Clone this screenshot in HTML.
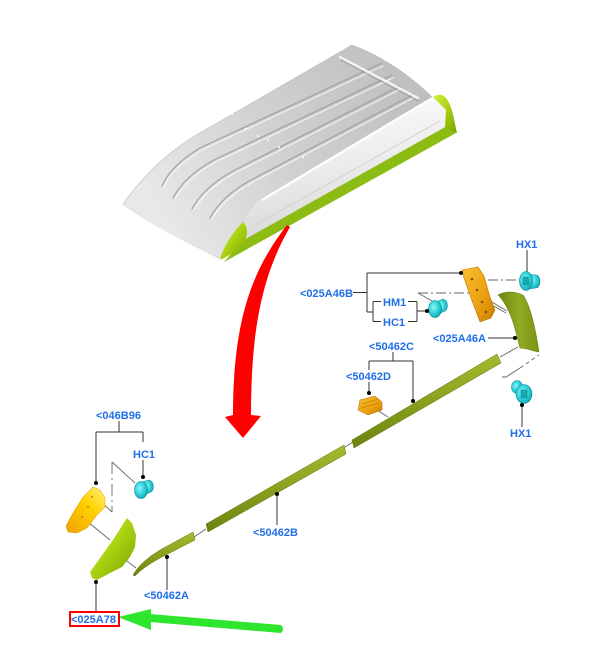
<!DOCTYPE html>
<html><head><meta charset="utf-8"><style>
html,body{margin:0;padding:0;background:#fff;}
svg{display:block;}
text{font-family:"Liberation Sans",Arial,sans-serif;font-weight:bold;font-size:11px;fill:#1f6fe8;}
</style></head><body>
<svg width="613" height="649" viewBox="0 0 613 649" xmlns="http://www.w3.org/2000/svg">
<defs>
<linearGradient id="roofTop" x1="150" y1="200" x2="400" y2="60" gradientUnits="userSpaceOnUse">
<stop offset="0" stop-color="#e8e8e8"/><stop offset="0.5" stop-color="#d0d0d0"/><stop offset="1" stop-color="#bfbfbf"/></linearGradient>
<linearGradient id="side" x1="0" y1="0" x2="0.2" y2="1">
<stop offset="0" stop-color="#ffffff"/><stop offset="0.5" stop-color="#eeeeee"/><stop offset="1" stop-color="#d8d8d8"/></linearGradient>
<linearGradient id="lime" x1="0" y1="0" x2="1" y2="1">
<stop offset="0" stop-color="#d4f040"/><stop offset="0.5" stop-color="#a8d010"/><stop offset="1" stop-color="#78a000"/></linearGradient>
<linearGradient id="olive" x1="0" y1="0" x2="0" y2="1">
<stop offset="0" stop-color="#a4bc30"/><stop offset="0.45" stop-color="#8ca420"/><stop offset="1" stop-color="#6c8410"/></linearGradient>
<linearGradient id="fin" x1="0" y1="0" x2="1" y2="0">
<stop offset="0" stop-color="#6a8610"/><stop offset="0.5" stop-color="#90aa22"/><stop offset="1" stop-color="#7a9416"/></linearGradient>
<radialGradient id="cyan" cx="0.4" cy="0.4" r="0.7">
<stop offset="0" stop-color="#8ff4f4"/><stop offset="0.5" stop-color="#30d4dc"/><stop offset="1" stop-color="#139aa6"/></radialGradient>
<linearGradient id="gold" x1="0" y1="0" x2="1" y2="1">
<stop offset="0" stop-color="#f8c030"/><stop offset="0.6" stop-color="#eaa010"/><stop offset="1" stop-color="#c87a00"/></linearGradient>
<linearGradient id="yel" x1="1" y1="0" x2="0" y2="1">
<stop offset="0" stop-color="#fff080"/><stop offset="0.4" stop-color="#ffd200"/><stop offset="1" stop-color="#f0a000"/></linearGradient>
</defs>

<!-- ROOF -->
<path d="M123,204 C140,180 165,152 205,130 L352,45 C380,55 410,75 432,97 L262,198 C252,205 246,214 243,222 L221,259 C190,243 150,225 123,204 Z" fill="url(#roofTop)" stroke="#bbb" stroke-width="0.6"/>
<path d="M432,97 L442,95 L447,110 L447,126 L242,241 L243,222 C246,214 252,205 262,198 Z" fill="url(#side)"/>
<path d="M242,241 L447,126 L456,133 L224,262 Z" fill="#8cbc14"/>
<path d="M243,222 C249,228 248,238 241,246 C234,252 227,257 220,260 C222,250 230,235 243,222 Z" fill="url(#lime)"/>
<path d="M433,97 C440,92 446,95 450,105 C454,115 455,125 457,133 L452,131 L445,127 L446,110 Z" fill="url(#lime)"/>
<path d="M262,200 L431,99" stroke="#fff" stroke-width="2"/>
<path d="M250,228 L440,121" stroke="#d2d2d2" stroke-width="1"/>
<!-- grooves -->
<g fill="none" stroke-linecap="round">
<path d="M162,186 C168,172 180,160 200,148 L382,63" stroke="#a0a0a0" stroke-width="1.2"/>
<path d="M164,187 C170,174 182,162 202,150 L383,66" stroke="#f6f6f6" stroke-width="1"/>
<path d="M173,198 C181,183 194,171 214,160 L392,75" stroke="#a0a0a0" stroke-width="1.2"/>
<path d="M175,199 C183,185 196,173 216,162 L393,78" stroke="#f6f6f6" stroke-width="1"/>
<path d="M192,209 C200,194 213,182 233,171 L400,86" stroke="#a0a0a0" stroke-width="1.2"/>
<path d="M194,210 C202,196 215,184 235,173 L401,89" stroke="#f6f6f6" stroke-width="1"/>
<path d="M210,218 C218,203 231,191 251,180 L414,94" stroke="#a0a0a0" stroke-width="1.2"/>
<path d="M212,219 C220,205 233,193 253,182 L415,97" stroke="#f6f6f6" stroke-width="1"/>
<path d="M340,57 L418,98" stroke="#f4f4f4" stroke-width="2.2"/>
<path d="M341,60 L418,101" stroke="#999" stroke-width="0.8"/>
<path d="M123,205 C150,225 190,244 221,260" stroke="#f8f8f8" stroke-width="1.4"/>
</g>
<g fill="#fff"><circle cx="232" cy="114" r="1"/><circle cx="246" cy="129" r="1"/><circle cx="258" cy="136" r="1"/><circle cx="268" cy="140" r="1"/><circle cx="279" cy="147" r="1"/><circle cx="303" cy="157" r="1"/></g>

<!-- RED ARROW -->
<path d="M287,225 C252,270 233,320 233,415 L225,417 L243,438 L261,416 L251,415 C251,330 262,275 290,227 Z" fill="#ff0000"/>

<!-- leader lines -->
<g stroke="#333" stroke-width="1" fill="none">
<path d="M527,250 V272"/>
<path d="M353,292.5 H367 M367,273 V312 M367,273 H461 M367,312 H373 M373,301.5 V321.5 M373,301.5 H381 M373,321.5 H381 M408,301.5 H417 M408,321.5 H417 M417,301.5 V321.5 M417,311 H427"/>
<path d="M488,338 H515"/>
<path d="M393,352 V361 M369,361 H413 M369,361 V370 M413,361 V401 M369,382 V393"/>
<path d="M522,405 V427"/>
<path d="M277,494 V525"/>
<path d="M167,557 V590"/>
<path d="M119,421 V432 M96,432 H143 M96,432 V483 M143,432 V442 M143,460 V477"/>
<path d="M96,582 V612"/>
</g>
<!-- thin gray connectors -->
<g stroke="#666" stroke-width="0.9" fill="none">
<path d="M470,280 H520" stroke-dasharray="10,3,2,3"/>
<path d="M418,293 H480" stroke-dasharray="10,3,2,3"/>
<path d="M418,293 L432,301"/>
<path d="M483,300 L506,313 M485,298 L507,311"/>
<path d="M500,357 L518,347"/>
<path d="M502,377 H506 L520,368" /><path d="M520,368 L539,355" stroke-dasharray="4,3"/>
<path d="M377,410 L388,417"/>
<path d="M345,447 L353,442"/>
<path d="M194,537 L206,529"/>
<path d="M123,558 L136,568"/>
<path d="M88,522 L110,540"/>
<path d="M112,462 L135,483"/>
<path d="M112,462 V512" stroke-dasharray="12,4,2,4"/>
<path d="M112,512 L99,500"/>
</g>

<!-- golden bracket 025A46B -->
<path d="M462,270 L478,267 L484,276 L490,297 L495,310 L491,318 L480,322 L471,298 L464,278 Z" fill="url(#gold)" stroke="#c07800" stroke-width="0.6"/>
<g fill="#8a5000"><circle cx="472" cy="279" r="1.3"/><circle cx="477" cy="290" r="1.3"/><circle cx="482" cy="302" r="1.3"/><circle cx="486" cy="312" r="1.3"/></g>
<!-- green fin 025A46A -->
<path d="M498,295 C505,291 514,291 523,295 C530,305 535,325 539,352 L534,351 C528,349 522,348 520,348 L517,337 C514,323 508,305 498,295 Z" fill="url(#fin)" stroke="#5c7608" stroke-width="0.5"/>
<!-- clip 50462D -->
<path d="M360,400 L375,396 L382,402 L382,410 L368,415 L358,410 Z" fill="url(#gold)" stroke="#b87000" stroke-width="0.5"/>
<path d="M362,404 L378,399 M361,408 L379,403" stroke="#c88000" stroke-width="0.8"/>

<!-- rails -->
<path d="M352,440 L497,354 L501,363 L354,448 Z" fill="url(#olive)" stroke="#5e760a" stroke-width="0.5"/>
<path d="M206,524 L344,445 L346,454 L208,532 Z" fill="url(#olive)" stroke="#5e760a" stroke-width="0.5"/>
<path d="M133,575 Q140,562 160,550 L193,532 L195,540 L160,558 Q142,568 135,576 Z" fill="url(#olive)" stroke="#5e760a" stroke-width="0.5"/>

<!-- yellow bracket 046B96 -->
<path d="M93,487 L100,490 L105,498 L105,507 L97,515 L87,528 L77,533 L68,532 L66,526 L73,513 L83,497 Z" fill="url(#yel)" stroke="#e09000" stroke-width="0.5"/>
<g fill="#c88000"><circle cx="92" cy="497" r="1"/><circle cx="88" cy="507" r="1"/><circle cx="82" cy="517" r="1"/></g>
<!-- green cap 025A78 -->
<path d="M127,518 L132,523 L136,535 L135,547 L130,557 L122,567 L110,573 L97,580 L92,578 L90,572 L100,558 L113,540 Z" fill="url(#lime)"/>

<!-- cyan screws -->
<g stroke="#0f8c96" stroke-width="0.6" fill="url(#cyan)">
<path d="M527,274 L536,275 A4,6.5 0 0 1 536,288 L527,289 Z"/>
<ellipse cx="526" cy="281" rx="6.5" ry="9.5"/>
<path d="M523,277 L528,277 L529,285 L523,285 Z" fill="#18a8b2"/>
<path d="M436,302 L443,299 A5,6.5 0 0 1 445,311 L438,314 Z"/>
<ellipse cx="435" cy="309" rx="6.5" ry="8.5"/>
<path d="M517,381 L522,386 L524,398 L514,392 Z"/>
<ellipse cx="517" cy="387" rx="5.5" ry="6.5"/>
<ellipse cx="524" cy="394" rx="8" ry="9.5"/>
<path d="M521,390 L527,390 L527,398 L521,398 Z" fill="#18a8b2"/>
<path d="M142,482 L149,480 A5,6.5 0 0 1 151,492 L144,495 Z"/>
<ellipse cx="141" cy="490" rx="6.5" ry="8.5"/>
</g>
<g fill="#000">
<circle cx="461" cy="273" r="2"/><circle cx="427" cy="311" r="2"/><circle cx="515" cy="338" r="2"/>
<circle cx="413" cy="401" r="2"/><circle cx="369" cy="393" r="2"/><circle cx="522" cy="405" r="2"/>
<circle cx="277" cy="494" r="2"/><circle cx="167" cy="557" r="2"/><circle cx="96" cy="483" r="2"/>
<circle cx="143" cy="477" r="2"/><circle cx="96" cy="582" r="2"/>
</g>

<!-- GREEN ARROW -->
<path d="M150,614 L281,625 Q285,629 281,633 L150,622 Z" fill="#2ee62e"/>
<path d="M118,617 L151,609 L151,630 Z" fill="#2ee62e"/>

<!-- LABELS -->
<text x="516" y="248">HX1</text>
<text x="300" y="297">&lt;025A46B</text>
<text x="383" y="306">HM1</text>
<text x="383" y="326">HC1</text>
<text x="433" y="342">&lt;025A46A</text>
<text x="369" y="350">&lt;50462C</text>
<text x="346" y="380">&lt;50462D</text>
<text x="510" y="437">HX1</text>
<text x="96" y="419">&lt;046B96</text>
<text x="133" y="458">HC1</text>
<text x="253" y="536">&lt;50462B</text>
<text x="144" y="599">&lt;50462A</text>
<rect x="70" y="612" width="49" height="14" fill="none" stroke="#ff0000" stroke-width="2"/>
<text x="71" y="623">&lt;025A78</text>
</svg>
</body></html>
